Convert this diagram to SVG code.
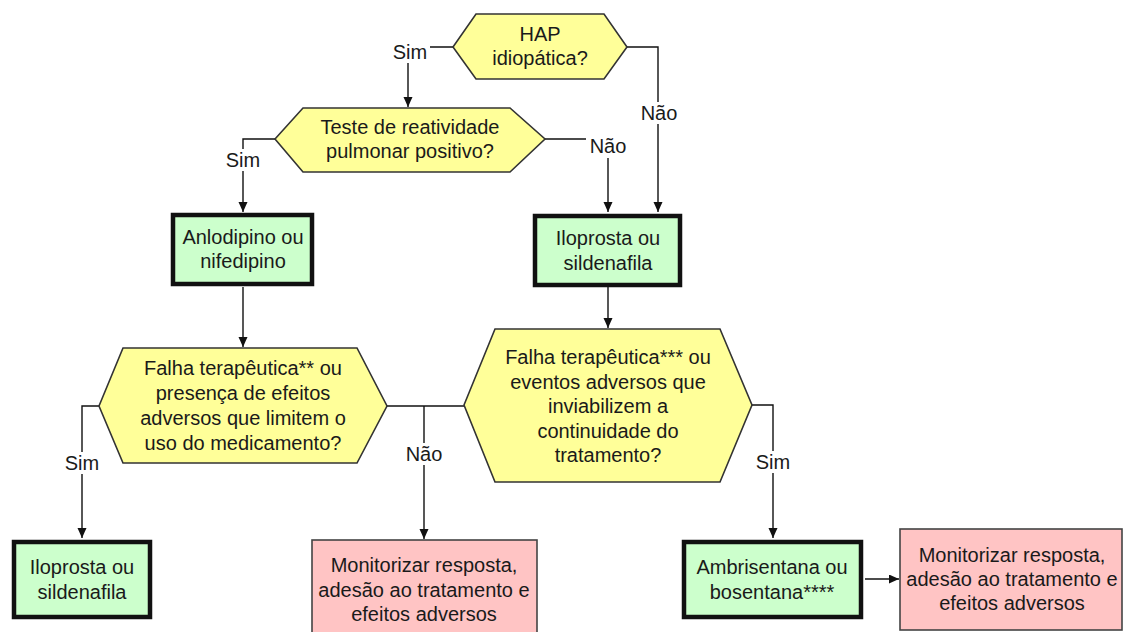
<svg xmlns="http://www.w3.org/2000/svg" width="1126" height="632" viewBox="0 0 1126 632">
<style>
text{font-family:"Liberation Sans",Arial,sans-serif;font-size:20px;fill:#1a1a1a;text-anchor:middle}
.hex{fill:#ffff99;stroke:#333;stroke-width:1.6}
.act{fill:#ccffcc;stroke:#111;stroke-width:4.5}
.mon{fill:#ffc4c4;stroke:#444;stroke-width:1.6}
.con{fill:none;stroke:#111;stroke-width:1.4}
.arr{marker-end:url(#ah)}
.lb{fill:#fff}
</style>
<defs>
<marker id="ah" markerUnits="userSpaceOnUse" markerWidth="10" markerHeight="10" refX="10" refY="4.5" orient="auto">
<path d="M0,0 L10,4.5 L0,9 z" fill="#111"/>
</marker>
</defs>
<rect width="1126" height="632" fill="#fff"/>
<g id="connectors">
<path class="con arr" d="M453,47 H408 V107"/>
<path class="con arr" d="M627,47 H658 V212"/>
<path class="con arr" d="M275,139 H243 V212"/>
<path class="con arr" d="M545,139 H608 V212"/>
<path class="con arr" d="M243,287 V347"/>
<path class="con arr" d="M608,287 V328"/>
<path class="con arr" d="M99,406 H82 V538"/>
<path class="con" d="M387,406 H464"/>
<path class="con arr" d="M424,406 V539"/>
<path class="con arr" d="M752,405 H773 V538"/>
<path class="con arr" d="M865,579 H899"/>
<rect class="lb" x="390" y="41" width="40" height="22"/>
<text x="410" y="59">Sim</text>
<rect class="lb" x="638" y="102" width="42" height="22"/>
<text x="659" y="120">Não</text>
<rect class="lb" x="586" y="134" width="44" height="24"/>
<text x="608" y="153">Não</text>
<rect class="lb" x="223" y="149" width="40" height="22"/>
<text x="243" y="167">Sim</text>
<rect class="lb" x="62" y="452" width="40" height="22"/>
<text x="82" y="470">Sim</text>
<rect class="lb" x="403" y="443" width="42" height="22"/>
<text x="424" y="461">Não</text>
<rect class="lb" x="753" y="451" width="40" height="22"/>
<text x="773" y="469">Sim</text>
</g>
<g id="q1">
<polygon class="hex" points="453,47 476,14 604,14 627,47 604,79 476,79"/>
<text x="540" y="41">HAP</text>
<text x="540" y="65">idiopática?</text>
</g>
<g id="q2">
<polygon class="hex" points="275,139 303,108 510,108 545,139 510,172 303,172"/>
<text x="410" y="134">Teste de reatividade</text>
<text x="410" y="158">pulmonar positivo?</text>
</g>
<g id="anlodipino">
<rect class="act" x="173" y="215" width="139" height="69"/>
<text x="243" y="244">Anlodipino ou</text>
<text x="243" y="268">nifedipino</text>
</g>
<g id="iloprosta1">
<rect class="act" x="535" y="216" width="145" height="69"/>
<text x="608" y="245">Iloprosta ou</text>
<text x="608" y="270">sildenafila</text>
</g>
<g id="q3">
<polygon class="hex" points="99,406 123,348 357,348 387,406 357,463 123,463"/>
<text x="243" y="375">Falha terapêutica** ou</text>
<text x="243" y="400">presença de efeitos</text>
<text x="243" y="425">adversos que limitem o</text>
<text x="243" y="450">uso do medicamento?</text>
</g>
<g id="q4">
<polygon class="hex" points="464,405 495,329 720,329 752,405 720,482 495,482"/>
<text x="608" y="364">Falha terapêutica*** ou</text>
<text x="608" y="389">eventos adversos que</text>
<text x="608" y="413">inviabilizem a</text>
<text x="608" y="438">continuidade do</text>
<text x="608" y="462">tratamento?</text>
</g>
<g id="iloprosta2">
<rect class="act" x="14" y="542" width="136" height="75"/>
<text x="82" y="574">Iloprosta ou</text>
<text x="82" y="599">sildenafila</text>
</g>
<g id="monitor1">
<rect class="mon" x="312" y="540" width="225" height="100"/>
<text x="424" y="572">Monitorizar resposta,</text>
<text x="424" y="597">adesão ao tratamento e</text>
<text x="424" y="621">efeitos adversos</text>
</g>
<g id="ambrisentana">
<rect class="act" x="684" y="542" width="177" height="75"/>
<text x="772" y="574">Ambrisentana ou</text>
<text x="772" y="599">bosentana****</text>
</g>
<g id="monitor2">
<rect class="mon" x="900" y="529" width="222" height="101"/>
<text x="1012" y="562">Monitorizar resposta,</text>
<text x="1012" y="586">adesão ao tratamento e</text>
<text x="1012" y="610">efeitos adversos</text>
</g>
</svg>
